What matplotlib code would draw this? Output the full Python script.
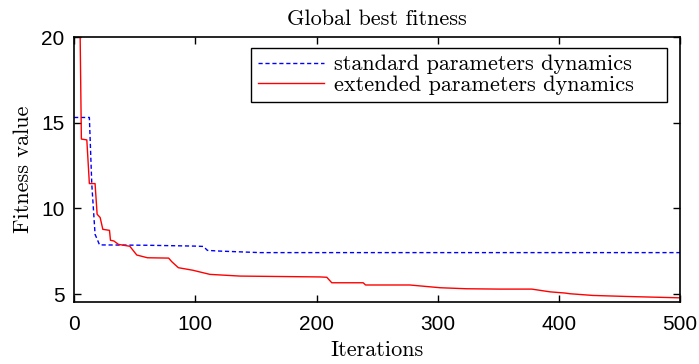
"""Global best fitness: standard vs extended parameter dynamics."""

import matplotlib
matplotlib.use("Agg")
import matplotlib.pyplot as plt

# standard parameters dynamics (blue, dashed)
std_iter = [0, 12.6, 14.6, 17.3, 21, 60, 100, 106.7, 110, 120, 153.5, 500]
std_fit = [15.31, 15.31, 11.41, 8.49, 7.87, 7.85, 7.8, 7.78, 7.55, 7.51, 7.42, 7.42]

# extended parameters dynamics (red, solid)
ext_iter = [0, 6, 10.5, 12.6, 17.3, 19, 21.5, 23.7, 29.2, 30, 32.8, 36.6, 46,
            51.7, 60.5, 78, 80.6, 86, 98, 112, 137, 203, 208.5, 212.6, 238.5,
            240.5, 277, 302, 324, 351, 377.6, 392.7, 405, 409, 428, 456, 500]
ext_fit = [50, 14.05, 14.0, 11.45, 11.45, 9.66, 9.47, 8.78, 8.72, 8.14, 8.1,
           7.9, 7.79, 7.28, 7.12, 7.1, 6.89, 6.54, 6.39, 6.15, 6.05, 6.0, 5.98,
           5.66, 5.66, 5.53, 5.53, 5.37, 5.31, 5.29, 5.29, 5.13, 5.06, 5.02,
           4.92, 4.86, 4.78]

serif = "cmr10"
sans = "Liberation Sans"

fig = plt.figure(figsize=(6.99, 3.64), dpi=100)
ax = fig.add_axes([0.106, 0.170, 0.867, 0.728])

ax.plot(std_iter, std_fit, color="blue", linestyle=(0, (3, 2)), lw=1,
        label="standard parameters dynamics")
ax.plot(ext_iter, ext_fit, color="red", lw=1,
        label="extended parameters dynamics")

ax.set_xlim(0, 500)
ax.set_ylim(4.53, 20)
ax.set_xticks([0, 100, 200, 300, 400, 500])
ax.set_yticks([5, 10, 15, 20])
ax.tick_params(direction="in", top=True, right=True, length=5, width=1,
               labelsize=15)
ax.tick_params(axis="x", pad=9)
ax.tick_params(axis="y", pad=7)
for lab in ax.get_xticklabels() + ax.get_yticklabels():
    lab.set_fontfamily(sans)
for s in ax.spines.values():
    s.set_linewidth(1.2)

ax.set_title("Global best fitness", fontfamily=serif, fontsize=16, pad=9)
ax.set_xlabel("Iterations", fontfamily=serif, fontsize=16, labelpad=5)
ax.set_ylabel("Fitness value", fontfamily=serif, fontsize=16, labelpad=6)

# MATLAB-like legend box: wide frame with spare room on the right
leg = ax.legend(loc="upper left", bbox_to_anchor=(0.292, 0.958, 0.687, 0),
                mode="expand", prop={"family": serif, "size": 16},
                fancybox=False, framealpha=1, edgecolor="black",
                borderpad=0.3, labelspacing=0.05, handlelength=3.0,
                handletextpad=0.45, borderaxespad=0)
leg.get_frame().set_linewidth(1)

fig.savefig("out.png", dpi=100)
